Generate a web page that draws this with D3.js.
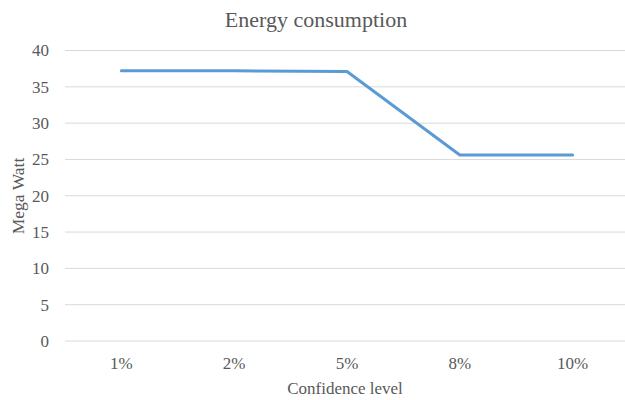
<!DOCTYPE html>
<html><head><meta charset="utf-8">
<script src="https://cdn.jsdelivr.net/npm/d3@7"></script>
<style>body{margin:0;background:#fff;} svg{display:block;} svg text{font-family:"Liberation Serif","Times New Roman","DejaVu Serif",serif !important;}</style>
</head><body>
<script>
const categories = ["1%", "2%", "5%", "8%", "10%"];
const values = [37.2, 37.2, 37.1, 25.6, 25.6];
const yTicks = [0, 5, 10, 15, 20, 25, 30, 35, 40];
const title = "Energy consumption";
const xTitle = "Confidence level";
const yTitle = "Mega Watt";

const W = 625, H = 400;
const m = {left: 65, right: -4, top: 50.5, bottom: 59};
const svg = d3.select("body").append("svg").attr("width", W).attr("height", H);

const x = d3.scaleBand().domain(categories).range([m.left, W - m.right]);
const y = d3.scaleLinear().domain([0, 40]).range([H - m.bottom, m.top]);

svg.append("g").selectAll("line").data(yTicks).join("line")
  .attr("x1", m.left).attr("x2", W).attr("y1", d => y(d)).attr("y2", d => y(d))
  .attr("stroke", "#d9d9d9").attr("stroke-width", 1);

const yAxis = svg.append("g").attr("transform", `translate(${m.left},0)`)
  .call(d3.axisLeft(y).tickValues(yTicks).tickSize(0).tickPadding(16));
yAxis.select(".domain").remove();
yAxis.selectAll("text").attr("font-size", 17).attr("fill", "#595959");

const xAxis = svg.append("g").attr("transform", `translate(0,${y(0)})`)
  .call(d3.axisBottom(x).tickSize(0).tickPadding(0));
xAxis.select(".domain").remove();
xAxis.selectAll("text").attr("dy", null).attr("y", 28).attr("font-size", 17).attr("fill", "#595959");

const line = d3.line().x((d, i) => x(categories[i]) + x.bandwidth() / 2).y(d => y(d));
svg.append("path").datum(values).attr("d", line)
  .attr("fill", "none").attr("stroke", "#5b9bd5").attr("stroke-width", 3)
  .attr("stroke-linejoin", "round").attr("stroke-linecap", "round");

svg.append("text").attr("x", 316).attr("y", 27).attr("text-anchor", "middle")
  .attr("font-size", 22).attr("fill", "#595959").text(title);
svg.append("text").attr("x", 345).attr("y", 394).attr("text-anchor", "middle")
  .attr("font-size", 17).attr("fill", "#595959").text(xTitle);
svg.append("text").attr("transform", "translate(24,196) rotate(-90)").attr("text-anchor", "middle")
  .attr("font-size", 17.5).attr("fill", "#595959").text(yTitle);
</script>
</body></html>
